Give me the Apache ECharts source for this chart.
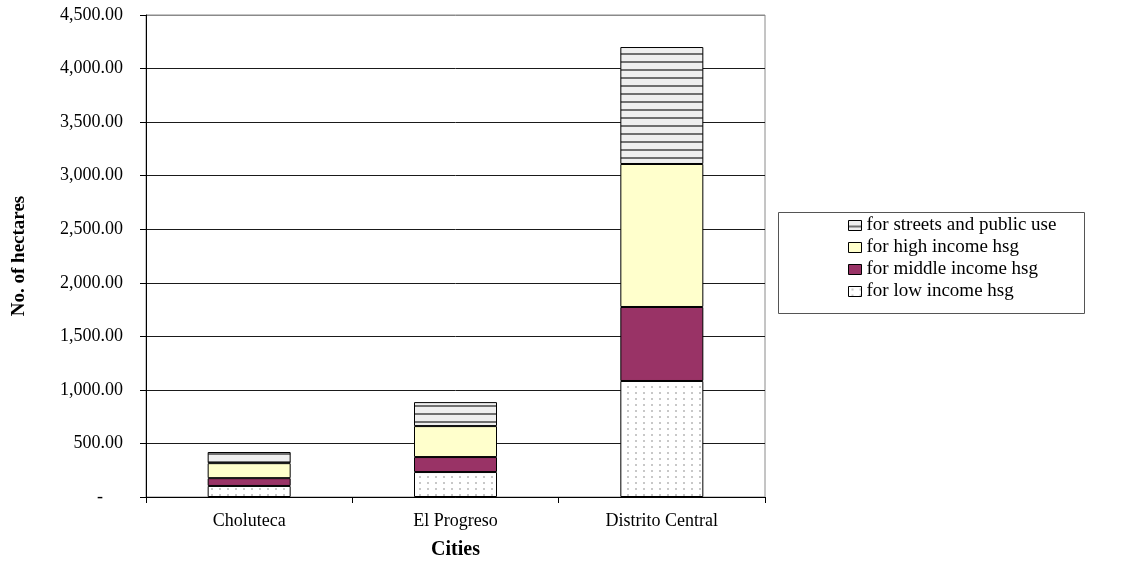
<!DOCTYPE html>
<html>
<head>
<meta charset="utf-8">
<script src="https://cdn.jsdelivr.net/npm/echarts@6/dist/echarts.min.js"></script>
<style>
  html, body { margin: 0; padding: 0; background: #fff; }
  #chart { width: 1124px; height: 562px; }
</style>
</head>
<body>
<div id="chart"></div>
<script>
// Land demand by city (hectares), split by use
const cities = ['Choluteca', 'El Progreso', 'Distrito Central'];
const lowIncome = [103, 233, 1083];
const middleIncome = [73, 140, 691];
const highIncome = [140, 289, 1335];
const streetsPublic = [104, 224, 1092];
const seriesNames = ['for low income hsg', 'for middle income hsg', 'for high income hsg', 'for streets and public use'];
const yTicks = [0, 500, 1000, 1500, 2000, 2500, 3000, 3500, 4000, 4500];

const FONT = 'Liberation Serif';

// Fill patterns drawn on small canvases
function dotPattern() {
  const c = document.createElement('canvas');
  c.width = 8; c.height = 6;
  const g = c.getContext('2d');
  g.fillStyle = '#ffffff';
  g.fillRect(0, 0, 8, 6);
  g.fillStyle = '#c8c8c8';
  g.fillRect(3, 2, 2, 2);
  return { image: c, repeat: 'repeat' };
}
function stripePattern() {
  const c = document.createElement('canvas');
  c.width = 8; c.height = 8;
  const g = c.getContext('2d');
  g.fillStyle = '#efefef';
  g.fillRect(0, 0, 8, 8);
  g.fillStyle = '#707070';
  g.fillRect(0, 5, 8, 2);
  return { image: c, repeat: 'repeat' };
}

const fills = [dotPattern(), '#993366', '#FFFFCC', stripePattern()];
const values = [lowIncome, middleIncome, highIncome, streetsPublic];

const chart = echarts.init(document.getElementById('chart'), null, { renderer: 'canvas' });

const gridLineColors = yTicks.map((v, i) => i === yTicks.length - 1 ? '#8a8a8a' : '#1a1a1a');

chart.setOption({
  animation: false,
  backgroundColor: '#ffffff',
  textStyle: { fontFamily: FONT, color: '#000' },
  grid: {
    left: 146, right: 359, top: 15, bottom: 65,
    containLabel: false,
    outerBoundsMode: 'none',
    show: true, borderColor: '#8a8a8a', borderWidth: 1, backgroundColor: 'transparent'
  },
  legend: {
    orient: 'vertical',
    left: 848, top: 216,
    padding: 0,
    itemGap: 3,
    icon: 'rect',
    itemWidth: 13, itemHeight: 10,
    data: seriesNames.slice().reverse(),
    textStyle: { fontFamily: FONT, fontSize: 19, color: '#000' },
    itemStyle: { borderColor: '#000', borderWidth: 1 }
  },
  graphic: [{
    type: 'rect',
    z: -1,
    shape: { x: 778.5, y: 212.5, width: 306, height: 101 },
    style: { fill: '#fff', stroke: '#555', lineWidth: 1 }
  }],
  xAxis: {
    type: 'category',
    data: cities,
    name: 'Cities',
    nameLocation: 'middle',
    nameGap: 43,
    nameTextStyle: { fontFamily: FONT, fontSize: 20, fontWeight: 'bold', color: '#000' },
    axisLine: { lineStyle: { color: '#000', width: 1 } },
    axisTick: { show: true, length: 6, lineStyle: { color: '#000' } },
    axisLabel: { fontFamily: FONT, fontSize: 18, color: '#000', margin: 15 }
  },
  yAxis: {
    type: 'value',
    min: 0, max: 4500, interval: 500,
    name: 'No. of hectares',
    nameLocation: 'middle',
    nameGap: 117,
    nameTextStyle: { fontFamily: FONT, fontSize: 19, fontWeight: 'bold', color: '#000' },
    axisLine: { show: true, lineStyle: { color: '#000', width: 1 } },
    axisTick: { show: true, length: 6, lineStyle: { color: '#000' } },
    splitLine: { show: true, lineStyle: { color: gridLineColors, width: 1 } },
    axisLabel: {
      fontFamily: FONT, fontSize: 18, color: '#000', margin: 23,
      formatter: v => v === 0 ? '{dash|-}' : v.toLocaleString('en-US', { minimumFractionDigits: 2, maximumFractionDigits: 2 }),
      rich: { dash: { fontFamily: FONT, fontSize: 18, color: '#000', padding: [0, 20, 0, 0] } }
    }
  },
  series: seriesNames.map((name, i) => ({
    name: name,
    type: 'bar',
    stack: 'land',
    barWidth: 83,
    data: values[i],
    itemStyle: { color: fills[i], borderColor: '#000', borderWidth: 1 },
    emphasis: { disabled: true }
  }))
});
</script>
</body>
</html>
